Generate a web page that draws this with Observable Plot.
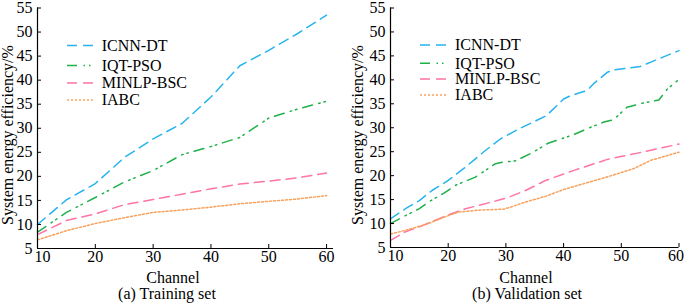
<!DOCTYPE html>
<html>
<head>
<meta charset="utf-8">
<script src="https://cdn.jsdelivr.net/npm/d3@7"></script>
<script src="https://cdn.jsdelivr.net/npm/@observablehq/plot@0.6"></script>
<style>
  html, body { margin: 0; padding: 0; background: #fff; }
  #chart { position: relative; width: 685px; height: 305px; font-family: "Liberation Serif", "Times New Roman", serif; color: #000; }
  .lbl { position: absolute; font-size: 16px; line-height: 16px; white-space: nowrap; color: #000; }
</style>
</head>
<body>
<div id="chart"></div>
<script>
// ---- data ----
const seriesNames = ["ICNN-DT", "IQT-PSO", "MINLP-BSC", "IABC"];
const seriesColors = ["#27b4ee", "#1fb04a", "#ff73a6", "#f7a15c"];
const seriesDashes = ["10,6", "10,6.5,1.5,4,1.5,6", "10,6", "2,2"];

const xTicks = [10, 20, 30, 40, 50, 60];
const yTicks = [5, 10, 15, 20, 25, 30, 35, 40, 45, 50, 55];

// (a) Training set
const trainX = [10, 15, 20, 25, 30, 35, 40, 45, 50, 55, 60];
const trainICNN = [10.0, 15.1, 18.5, 23.9, 27.8, 31.0, 36.5, 43.0, 46.2, 49.7, 53.5];
const trainIQT = [8.4, 12.5, 15.6, 18.8, 21.2, 24.5, 26.2, 28.1, 32.1, 34.0, 35.6];
const trainMINLP = [7.9, 10.8, 12.2, 14.1, 15.2, 16.3, 17.4, 18.4, 19.0, 19.7, 20.7];
const trainIABC = [6.8, 8.7, 10.2, 11.4, 12.5, 13.0, 13.6, 14.3, 14.8, 15.3, 16.0];

// (b) Validation set
const valICNNx = [10, 12.6, 15, 17.2, 20, 22.7, 24.4, 26.5, 29.1, 32, 37, 40, 41.2, 44.1, 45.2, 47.6, 48.7, 53.3, 55.1, 60];
const valICNN = [11.0, 13.1, 14.8, 16.9, 19.0, 21.5, 23.2, 25.3, 27.7, 29.6, 32.5, 36.0, 36.7, 37.8, 39.2, 41.6, 42.1, 42.8, 43.7, 46.1];
const valIQTx = [10, 12, 15, 16.6, 19.2, 21.3, 24.7, 28.2, 29.4, 31.7, 34.6, 37.2, 41.8, 44.7, 47, 48.7, 51, 53.9, 56.5, 58, 59.7];
const valIQT = [10.0, 11.3, 13.1, 14.5, 16.3, 18.0, 19.7, 22.5, 22.8, 23.1, 24.8, 26.7, 28.6, 30.1, 31.2, 31.7, 34.3, 35.2, 35.8, 38.1, 39.8];
const valMINLPx = [10, 12.6, 15, 17.8, 20.7, 23, 25.3, 28.8, 30.5, 33.4, 36.9, 41.8, 47.6, 49.9, 52.8, 60];
const valMINLP = [6.5, 8.3, 9.3, 10.7, 12.1, 13.1, 13.8, 14.9, 15.5, 16.9, 19.0, 21.1, 23.4, 24.0, 24.7, 26.6];
const valIABCx = [10, 12.6, 16.1, 19.2, 21.8, 25.3, 29.6, 30.5, 33.4, 36.9, 40, 48, 52.2, 55.1, 60];
const valIABC = [7.8, 8.6, 9.8, 11.3, 12.4, 12.8, 13.0, 13.3, 14.5, 15.7, 17.1, 19.9, 21.5, 23.2, 24.9];

const yTitle = "System energy efficiency/%";
const xTitle = "Channel";
const captions = ["(a) Training set", "(b) Validation set"];

// ---- build ----
function rowsOf(xs, ys) { return xs.map((x, i) => ({x, y: ys[i]})); }

const panelSeries = [
  [rowsOf(trainX, trainICNN), rowsOf(trainX, trainIQT), rowsOf(trainX, trainMINLP), rowsOf(trainX, trainIABC)],
  [rowsOf(valICNNx, valICNN), rowsOf(valIQTx, valIQT), rowsOf(valMINLPx, valMINLP), rowsOf(valIABCx, valIABC)]
];

const layout = [
  {left: 0, width: 342, mL: 37, mR: 9, mT: 7.5, axisY: 248, xMax: 61.2, yTitleX: 7.5, chX: 173, capX: 167,
   firstDx: 5, lastDx: 0,
   leg: {x0: 67, x1: 94, tx: 101.7, rows: [45.5, 65.5, 83, 100]}},
  {left: 342, width: 343, mL: 48, mR: 6.5, mT: 7.5, axisY: 247, xMax: 60, yTitleX: 15.5, chX: 184, capX: 185,
   firstDx: 5, lastDx: -3,
   leg: {x0: 78, x1: 105.3, tx: 113, rows: [45, 63.3, 79, 95]}}
];

const H = 285;
const chart = document.getElementById("chart");

function addLabel(parent, text, cx, cy, rotate) {
  const d = document.createElement("div");
  d.className = "lbl";
  d.textContent = text;
  d.style.left = cx + "px";
  d.style.top = cy + "px";
  d.style.transform = "translate(-50%,-50%)" + (rotate ? " rotate(-90deg)" : "");
  parent.appendChild(d);
}

layout.forEach((L, p) => {
  const holder = document.createElement("div");
  holder.style.position = "absolute";
  holder.style.left = L.left + "px";
  holder.style.top = "0px";
  holder.style.width = L.width + "px";
  holder.style.height = "305px";
  chart.appendChild(holder);

  const lineMarks = panelSeries[p].map((rows, i) =>
    Plot.line(rows, {x: "x", y: "y", stroke: seriesColors[i], strokeWidth: 1.5, strokeDasharray: seriesDashes[i]})
  );

  const firstTick = xTicks.slice(0, 1);
  const midTicks = xTicks.slice(1, -1);
  const lastTick = xTicks.slice(-1);

  const svg = Plot.plot({
    width: L.width,
    height: H,
    marginLeft: L.mL,
    marginRight: L.mR,
    marginTop: L.mT,
    marginBottom: H - L.axisY,
    style: {fontFamily: "'Liberation Serif', 'Times New Roman', serif", fontSize: "16px", color: "#000", background: "transparent"},
    x: {domain: [10, L.xMax]},
    y: {domain: [5, 55]},
    marks: [
      ...lineMarks,
      // inward tick marks only
      Plot.axisX({ticks: xTicks, tickSize: -4, fill: "none", label: null}),
      // tick labels
      Plot.axisX({ticks: midTicks, tickSize: 0, tickPadding: 2, label: null}),
      Plot.axisX({ticks: firstTick, tickSize: 0, tickPadding: 2, dx: L.firstDx, label: null}),
      Plot.axisX({ticks: lastTick, tickSize: 0, tickPadding: 2, dx: L.lastDx, label: null}),
      Plot.axisY({ticks: yTicks, tickSize: -4, tickPadding: 9, label: null}),
      Plot.ruleY([5], {stroke: "#000", strokeWidth: 1.2}),
      Plot.ruleX([10], {stroke: "#000", strokeWidth: 1.2})
    ]
  });
  svg.style.position = "absolute";
  svg.style.left = "0px";
  svg.style.top = "0px";
  holder.appendChild(svg);

  // legend
  const ns = "http://www.w3.org/2000/svg";
  const leg = document.createElementNS(ns, "svg");
  leg.setAttribute("width", L.width);
  leg.setAttribute("height", 120);
  leg.style.position = "absolute";
  leg.style.left = "0px";
  leg.style.top = "0px";
  seriesNames.forEach((name, i) => {
    const y = L.leg.rows[i];
    const ln = document.createElementNS(ns, "line");
    ln.setAttribute("x1", L.leg.x0);
    ln.setAttribute("x2", L.leg.x1);
    ln.setAttribute("y1", y);
    ln.setAttribute("y2", y);
    ln.setAttribute("stroke", seriesColors[i]);
    ln.setAttribute("stroke-width", 1.5);
    ln.setAttribute("stroke-dasharray", seriesDashes[i]);
    leg.appendChild(ln);
    const t = document.createElementNS(ns, "text");
    t.setAttribute("x", L.leg.tx);
    t.setAttribute("y", y);
    t.setAttribute("dy", "0.33em");
    t.setAttribute("font-size", 16);
    t.setAttribute("font-family", "'Liberation Serif', 'Times New Roman', serif");
    t.setAttribute("fill", "#000");
    t.textContent = name;
    leg.appendChild(t);
  });
  holder.appendChild(leg);

  addLabel(holder, yTitle, L.yTitleX, 135, true);
  addLabel(holder, xTitle, L.chX, 278);
  addLabel(holder, captions[p], L.capX, 294);
});
</script>
</body>
</html>
